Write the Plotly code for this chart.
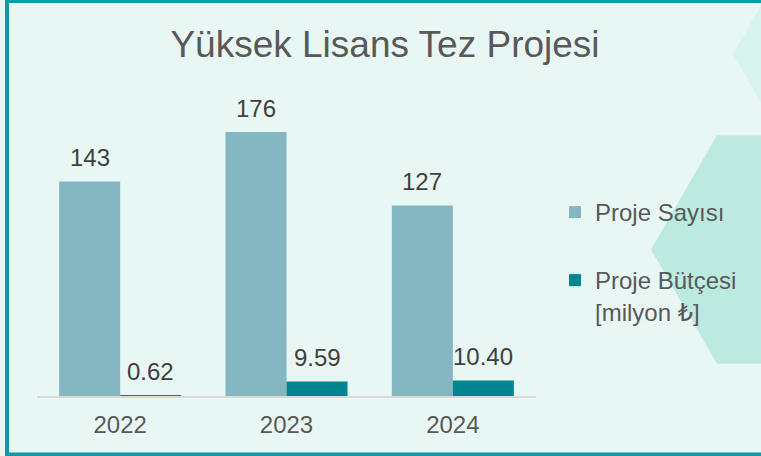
import math
import plotly.graph_objects as go

# ---- data ----
years = ["2022", "2023", "2024"]
proje_sayisi = [143, 176, 127]
proje_butcesi = [0.62, 9.59, 10.40]
series_names = ["Proje Sayısı", "Proje Bütçesi<br>[milyon ₺]"]
title_text = "Yüksek Lisans Tez Projesi"

# ---- style ----
W, H = 761, 456
ML, MR, MT, MB = 37, 225, 96, 60
PW, PH = W - ML - MR, H - MT - MB
FONT = "Liberation Sans, Arial, DejaVu Sans, sans-serif"
BG = "#e8f7f4"
C1 = "#84b7c1"
C2 = "#01868f"


def px(x):
    return (x - ML) / PW


def py(y):
    return (H - MB - y) / PH


def hexpath(cx, cy, s):
    # flat-top hexagon, pixel centre cx, cy, side s
    h = s * math.sqrt(3) / 2
    pts = [(cx - s, cy), (cx - s / 2, cy - h), (cx + s / 2, cy - h),
           (cx + s, cy), (cx + s / 2, cy + h), (cx - s / 2, cy + h)]
    return "M" + " L".join(f"{px(a):.5f},{py(b):.5f}" for a, b in pts) + " Z"


fig = go.Figure()
fig.add_trace(go.Bar(x=years, y=proje_sayisi, name=series_names[0],
                     marker=dict(color=C1, line=dict(width=0)), legend="legend"))
fig.add_trace(go.Bar(x=years, y=proje_butcesi, name=series_names[1],
                     marker=dict(color=C2, line=dict(width=0)), legend="legend2"))

annotations = []
for i, v in enumerate(proje_sayisi):
    annotations.append(dict(x=i, y=v, xref="x", yref="y", text=f"{v:d}",
                            showarrow=False, xshift=-30.5, yshift=24,
                            yanchor="middle", font=dict(size=24, color="#404040", family=FONT)))
for i, v in enumerate(proje_butcesi):
    annotations.append(dict(x=i, y=v, xref="x", yref="y", text=f"{v:.2f}",
                            showarrow=False, xshift=30.5, yshift=24,
                            yanchor="middle", font=dict(size=24, color="#404040", family=FONT)))

s = 132
shapes = [
    dict(type="path", xref="paper", yref="paper", layer="below",
         path=hexpath(733 + s, 54, s), fillcolor="#d6f3ec", line=dict(width=0)),
    dict(type="path", xref="paper", yref="paper", layer="below",
         path=hexpath(651 + s, 249.5, s), fillcolor="#bceae0", line=dict(width=0)),
    dict(type="rect", xref="paper", yref="paper", layer="below",
         x0=px(7), x1=px(775), y0=py(1), y1=py(454.5),
         line=dict(color="#0b9aa7", width=4), fillcolor="rgba(0,0,0,0)"),
]

fig.update_layout(
    width=W, height=H,
    margin=dict(l=ML, r=MR, t=MT, b=MB, pad=0, autoexpand=False),
    paper_bgcolor=BG, plot_bgcolor="rgba(0,0,0,0)",
    font=dict(family=FONT, color="#595959"),
    title=dict(text=title_text, xref="container", yref="container",
               x=385 / W, y=1 - 44 / H, xanchor="center", yanchor="middle",
               font=dict(size=37, color="#595959", family=FONT)),
    barmode="group", bargap=0.2665, bargroupgap=0,
    xaxis=dict(type="category", range=[-0.5, len(years) - 0.5], autorange=False,
               showline=True, linecolor="#d9d9d9", linewidth=1.5,
               ticks="", showgrid=False, zeroline=False, ticklabelstandoff=6,
               tickfont=dict(size=24, color="#595959", family=FONT)),
    yaxis=dict(visible=False, range=[0, 200], autorange=False,
               showgrid=False, zeroline=False),
    showlegend=True,
    legend=dict(xref="container", yref="container", x=555 / W, y=1 - 212.5 / H,
                xanchor="left", yanchor="middle",
                bgcolor="rgba(0,0,0,0)", borderwidth=0,
                font=dict(size=24, color="#595959", family=FONT)),
    legend2=dict(xref="container", yref="container", x=555 / W, y=1 - 296 / H,
                 xanchor="left", yanchor="middle", valign="top",
                 bgcolor="rgba(0,0,0,0)", borderwidth=0,
                 font=dict(size=24, color="#595959", family=FONT)),
    annotations=annotations,
    shapes=shapes,
)

fig.write_html(
    "out.html",
    config={"displayModeBar": False},
    post_script="document.body.style.margin='0';document.body.style.overflow='hidden';"
                "document.body.style.background='" + BG + "';",
)
